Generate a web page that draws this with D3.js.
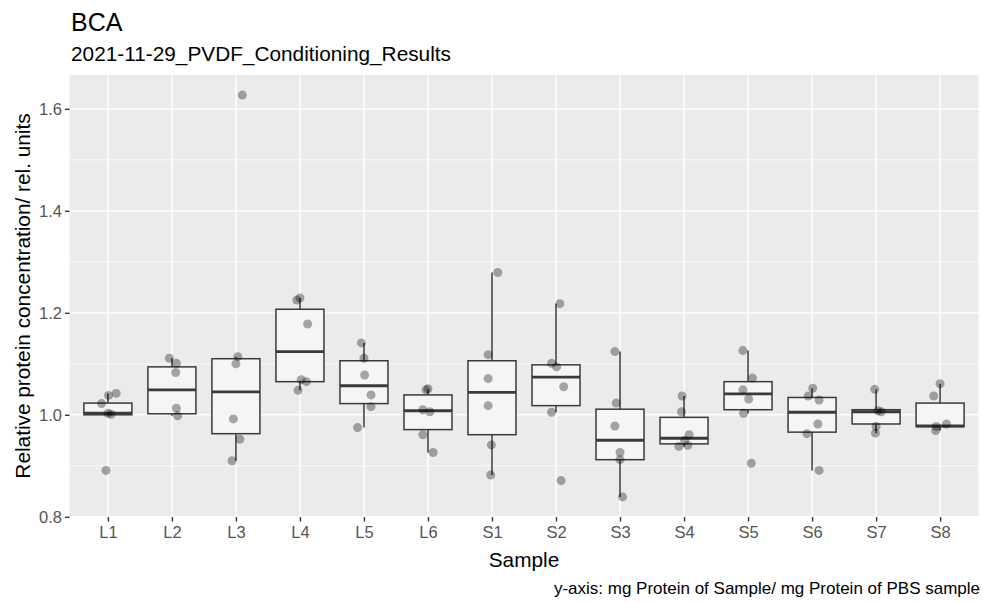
<!DOCTYPE html>
<meta charset="utf-8">
<style>
body { margin: 0; background: #fff; }
text { font-family: "Liberation Sans", Arial, sans-serif; }
</style>
<svg id="chart" width="983" height="603"></svg>
<script src="https://d3js.org/d3.v7.min.js"></script>
<script>

// data

var samples = ["L1", "L2", "L3", "L4", "L5", "L6",
               "S1", "S2", "S3", "S4", "S5", "S6", "S7", "S8"];

// box statistics, one per sample
var whiskerLow  = [1.000, 0.998, 0.910, 1.048, 0.975, 0.926, 0.882, 1.005, 0.839, 0.938, 1.003, 0.891, 0.964, 0.969];
var boxQ1       = [1.000, 1.002, 0.963, 1.065, 1.022, 0.971, 0.961, 1.018, 0.912, 0.943, 1.010, 0.966, 0.982, 0.977];
var boxMedian   = [1.003, 1.049, 1.045, 1.124, 1.057, 1.008, 1.044, 1.074, 0.950, 0.954, 1.041, 1.005, 1.006, 0.978];
var boxQ3       = [1.023, 1.094, 1.110, 1.207, 1.106, 1.039, 1.106, 1.098, 1.011, 0.995, 1.065, 1.034, 1.010, 1.023];
var whiskerHigh = [1.042, 1.111, 1.114, 1.229, 1.141, 1.050, 1.279, 1.218, 1.124, 1.037, 1.126, 1.052, 1.050, 1.061];

// single measurements (jitter = horizontal offset in category units)
var pointSample = [
  "L1","L1","L1","L1","L1","L1",
  "L2","L2","L2","L2","L2",
  "L3","L3","L3","L3","L3","L3",
  "L4","L4","L4","L4","L4","L4",
  "L5","L5","L5","L5","L5","L5",
  "L6","L6","L6","L6","L6","L6",
  "S1","S1","S1","S1","S1","S1",
  "S2","S2","S2","S2","S2","S2",
  "S3","S3","S3","S3","S3","S3",
  "S4","S4","S4","S4","S4","S4",
  "S5","S5","S5","S5","S5","S5",
  "S6","S6","S6","S6","S6","S6",
  "S7","S7","S7","S7","S7",
  "S8","S8","S8","S8","S8"];
var pointValue = [
  0.891, 1.001, 1.003, 1.022, 1.038, 1.042,
  1.111, 1.101, 1.083, 1.013, 0.998,
  1.627, 1.114, 1.100, 0.992, 0.952, 0.910,
  1.229, 1.225, 1.178, 1.069, 1.065, 1.048,
  1.141, 1.111, 1.078, 1.039, 1.016, 0.975,
  1.051, 1.049, 1.010, 1.006, 0.961, 0.926,
  1.279, 1.118, 1.071, 1.018, 0.941, 0.882,
  1.218, 1.101, 1.094, 1.055, 1.005, 0.871,
  1.124, 1.023, 0.978, 0.926, 0.912, 0.839,
  1.037, 1.006, 0.961, 0.950, 0.940, 0.938,
  1.126, 1.072, 1.049, 1.031, 1.003, 0.905,
  1.052, 1.037, 1.029, 0.982, 0.963, 0.891,
  1.050, 1.008, 1.006, 0.977, 0.964,
  1.061, 1.037, 0.982, 0.977, 0.969];
var pointJitter = [
  -0.03, 0.05, 0.00, -0.10, 0.01, 0.13,
  -0.04, 0.07, 0.06, 0.07, 0.09,
  0.10, 0.03, 0.00, -0.04, 0.06, -0.06,
  0.00, -0.05, 0.12, 0.02, 0.10, -0.03,
  -0.04, 0.00, 0.01, 0.11, 0.11, -0.10,
  0.00, -0.03, -0.08, 0.03, -0.08, 0.08,
  0.09, -0.06, -0.06, -0.06, -0.01, -0.02,
  0.06, -0.07, 0.01, 0.12, -0.07, 0.08,
  -0.08, -0.06, -0.08, 0.00, 0.00, 0.04,
  -0.03, -0.04, 0.08, 0.01, 0.06, -0.08,
  -0.08, 0.07, -0.08, 0.01, -0.07, 0.05,
  0.01, -0.06, 0.11, 0.09, -0.08, 0.11,
  -0.02, 0.03, 0.08, 0.00, -0.01,
  0.00, -0.10, 0.10, -0.06, -0.07];

var yMajor = [0.8, 1.0, 1.2, 1.4, 1.6];
var yMinor = [0.9, 1.1, 1.3, 1.5];

var titleText = "BCA";
var subtitleText = "2021-11-29_PVDF_Conditioning_Results";
var xTitle = "Sample";
var yTitle = "Relative protein concentration/ rel. units";
var captionText = "y-axis: mg Protein of Sample/ mg Protein of PBS sample";

// layout

var svg = d3.select("#chart");
var panel = {left: 69.5, right: 978.5, top: 75, bottom: 517};

var boxes = samples.map(function (s, i) {
    return {sample: s, lo: whiskerLow[i], q1: boxQ1[i], med: boxMedian[i],
            q3: boxQ3[i], hi: whiskerHigh[i]};
});
var points = pointValue.map(function (v, i) {
    return {sample: pointSample[i], value: v, jitter: pointJitter[i]};
});

// ggplot style 5% expansion on y
var allVals = pointValue.concat(whiskerLow, whiskerHigh);
var yMin = d3.min(allVals), yMax = d3.max(allVals);
var pad = (yMax - yMin) * 0.05;

var x = d3.scalePoint().domain(samples)
    .range([panel.left, panel.right]).padding(0.6);
var y = d3.scaleLinear().domain([yMin - pad, yMax + pad])
    .range([panel.bottom, panel.top]);
var step = x.step();

// panel background and grid
svg.append("rect")
    .attr("x", panel.left).attr("y", panel.top)
    .attr("width", panel.right - panel.left)
    .attr("height", panel.bottom - panel.top)
    .attr("fill", "#ebebeb");

svg.selectAll(".minor").data(yMinor).enter().append("line")
    .attr("x1", panel.left).attr("x2", panel.right)
    .attr("y1", d => y(d)).attr("y2", d => y(d))
    .attr("stroke", "#fff").attr("stroke-width", 0.7);

svg.selectAll(".majorY").data(yMajor).enter().append("line")
    .attr("x1", panel.left).attr("x2", panel.right)
    .attr("y1", d => y(d)).attr("y2", d => y(d))
    .attr("stroke", "#fff").attr("stroke-width", 1.4);

svg.selectAll(".majorX").data(samples).enter().append("line")
    .attr("x1", d => x(d)).attr("x2", d => x(d))
    .attr("y1", panel.top).attr("y2", panel.bottom)
    .attr("stroke", "#fff").attr("stroke-width", 1.4);

// boxplots
var bw = step * 0.75;
var g = svg.append("g").attr("fill", "none").attr("stroke", "#3a3a3a");

g.selectAll(".wlo").data(boxes).enter().append("line")
    .attr("x1", d => x(d.sample)).attr("x2", d => x(d.sample))
    .attr("y1", d => y(d.q1)).attr("y2", d => y(d.lo))
    .attr("stroke-width", 1.5);
g.selectAll(".whi").data(boxes).enter().append("line")
    .attr("x1", d => x(d.sample)).attr("x2", d => x(d.sample))
    .attr("y1", d => y(d.q3)).attr("y2", d => y(d.hi))
    .attr("stroke-width", 1.5);
g.selectAll(".box").data(boxes).enter().append("rect")
    .attr("x", d => x(d.sample) - bw / 2).attr("width", bw)
    .attr("y", d => y(d.q3)).attr("height", d => y(d.q1) - y(d.q3))
    .attr("fill", "#f5f5f5").attr("stroke-width", 1.5);
g.selectAll(".med").data(boxes).enter().append("line")
    .attr("x1", d => x(d.sample) - bw / 2).attr("x2", d => x(d.sample) + bw / 2)
    .attr("y1", d => y(d.med)).attr("y2", d => y(d.med))
    .attr("stroke-width", 2.9);

// jittered points
svg.selectAll(".pt").data(points).enter().append("circle")
    .attr("cx", d => x(d.sample) + d.jitter * step)
    .attr("cy", d => y(d.value))
    .attr("r", 4.5)
    .attr("fill", "#000").attr("fill-opacity", 0.33);

// axes
var yAxis = svg.append("g")
    .attr("transform", "translate(" + panel.left + ",0)")
    .call(d3.axisLeft(y).tickValues(yMajor).tickFormat(d3.format(".1f"))
          .tickSize(4.5).tickPadding(3));
var xAxis = svg.append("g")
    .attr("transform", "translate(0," + panel.bottom + ")")
    .call(d3.axisBottom(x).tickSize(4.5).tickPadding(5));

[yAxis, xAxis].forEach(function (a) {
    a.select(".domain").remove();
    a.selectAll(".tick line").attr("stroke", "#333").attr("stroke-width", 1.4);
    a.selectAll(".tick text").attr("fill", "#555")
        .style("font-size", "16.5px")
        .style("font-family", "'Liberation Sans', Arial, sans-serif");
});

// titles
svg.append("text").attr("x", 71).attr("y", 31)
    .style("font-size", "25px").attr("fill", "#000").text(titleText);
svg.append("text").attr("x", 71).attr("y", 61)
    .style("font-size", "20.8px").attr("fill", "#000").text(subtitleText);
svg.append("text")
    .attr("x", (panel.left + panel.right) / 2).attr("y", 567)
    .attr("text-anchor", "middle")
    .style("font-size", "20.8px").attr("fill", "#000").text(xTitle);
svg.append("text")
    .attr("transform", "translate(30," + (panel.top + panel.bottom) / 2 + ") rotate(-90)")
    .attr("text-anchor", "middle")
    .style("font-size", "20.8px").attr("fill", "#000").text(yTitle);
svg.append("text").attr("x", 980).attr("y", 594)
    .attr("text-anchor", "end")
    .style("font-size", "17px").attr("fill", "#000").text(captionText);

</script>
